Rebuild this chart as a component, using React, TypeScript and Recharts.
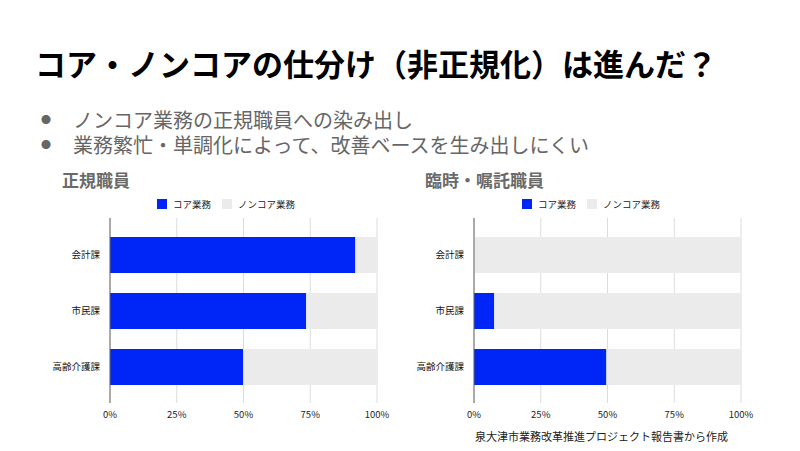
import React from 'react';
import { BarChart, Bar, XAxis, YAxis, CartesianGrid } from 'recharts';

const categories = ['会計課', '市民課', '高齢介護課'];
const regularCore = [91.9, 73.5, 49.9];
const regularNonCore = [8.1, 26.5, 50.1];
const tempCore = [0, 7.6, 49.6];
const tempNonCore = [100, 92.4, 50.4];
const xTicks = [0, 25, 50, 75, 100];
const seriesNames = ['コア業務', 'ノンコア業務'];
const seriesColors = ['#0026F7', '#EBEBEB'];

const bullets = [
  'ノンコア業務の正規職員への染み出し',
  '業務繁忙・単調化によって、改善ベースを生み出しにくい',
];

const FONT = '"Noto Sans CJK JP", "Noto Sans", sans-serif';

function buildRows(core: number[], nonCore: number[]) {
  return categories.map((name, i) => ({ name, core: core[i], nonCore: nonCore[i] }));
}

function Legend({ left }: { left: number }) {
  return (
    <div
      style={{
        position: 'absolute',
        left,
        top: 197,
        display: 'flex',
        alignItems: 'center',
        fontSize: 9.5,
        color: '#222',
        fontFamily: FONT,
      }}
    >
      {seriesNames.map((n, i) => (
        <div key={n} style={{ display: 'flex', alignItems: 'center', marginRight: 11 }}>
          <span
            style={{
              display: 'inline-block',
              width: 10,
              height: 10,
              background: seriesColors[i],
              marginRight: 6,
            }}
          />
          <span>{n}</span>
        </div>
      ))}
    </div>
  );
}

function StackChart({ left, core, nonCore }: { left: number; core: number[]; nonCore: number[] }) {
  const data = buildRows(core, nonCore);
  return (
    <div style={{ position: 'absolute', left, top: 160 }}>
      <BarChart
        width={400}
        height={270}
        data={data}
        layout="vertical"
        margin={{ top: 58, right: 23, bottom: 7, left: 0 }}
      >
        <CartesianGrid horizontal={false} stroke="#dcdcdc" />
        <XAxis
          type="number"
          domain={[0, 100]}
          ticks={xTicks}
          tickFormatter={(v) => `${v}%`}
          axisLine={false}
          tickLine={false}
          height={20}
          tick={{ fill: '#222', fontSize: 9.5, fontFamily: FONT }}
        />
        <YAxis
          type="category"
          dataKey="name"
          width={110}
          padding={{ top: 9, bottom: 8 }}
          axisLine={{ stroke: '#666' }}
          tickLine={false}
          tickMargin={4}
          tick={{ fill: '#111', fontSize: 9.5, fontFamily: FONT }}
        />
        <Bar dataKey="core" stackId="a" fill={seriesColors[0]} barSize={36} isAnimationActive={false} />
        <Bar dataKey="nonCore" stackId="a" fill={seriesColors[1]} barSize={36} isAnimationActive={false} />
      </BarChart>
    </div>
  );
}

export default function App() {
  return (
    <div
      style={{
        position: 'absolute',
        left: 0,
        top: 0,
        width: 800,
        height: 451,
        background: '#fff',
        fontFamily: FONT,
        overflow: 'hidden',
      }}
    >
      <div
        style={{
          position: 'absolute',
          left: 35,
          top: 43,
          fontSize: 31,
          fontWeight: 700,
          color: '#000',
          whiteSpace: 'nowrap',
          lineHeight: '40px',
        }}
      >
        コア・ノンコアの仕分け（非正規化）は進んだ？
      </div>
      {bullets.map((b, i) => (
        <div
          key={b}
          style={{
            position: 'absolute',
            left: 41,
            top: 108 + i * 25,
            fontSize: 20,
            color: '#666',
            whiteSpace: 'nowrap',
            lineHeight: '23px',
            display: 'flex',
            alignItems: 'center',
          }}
        >
          <span style={{ display: 'inline-block', width: 32, fontSize: 10 }}>●</span>
          {b}
        </div>
      ))}
      <div
        style={{
          position: 'absolute',
          left: 62,
          top: 169,
          fontSize: 17,
          fontWeight: 700,
          color: '#6a6a6a',
          lineHeight: '22px',
        }}
      >
        正規職員
      </div>
      <div
        style={{
          position: 'absolute',
          left: 425,
          top: 169,
          fontSize: 17,
          fontWeight: 700,
          color: '#6a6a6a',
          lineHeight: '22px',
        }}
      >
        臨時・嘱託職員
      </div>
      <Legend left={157} />
      <Legend left={522} />
      <StackChart left={0} core={regularCore} nonCore={regularNonCore} />
      <StackChart left={364} core={tempCore} nonCore={tempNonCore} />
      <div
        style={{
          position: 'absolute',
          left: 475,
          top: 428,
          fontSize: 11,
          color: '#222',
          whiteSpace: 'nowrap',
          lineHeight: '16px',
        }}
      >
        泉大津市業務改革推進プロジェクト報告書から作成
      </div>
    </div>
  );
}
